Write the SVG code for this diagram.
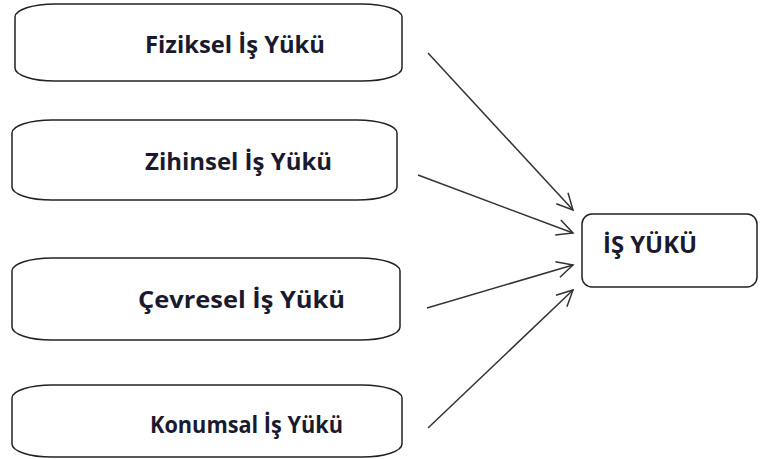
<svg xmlns="http://www.w3.org/2000/svg" width="760" height="459" viewBox="0 0 760 459">
<style>
.box{fill:#fff;stroke:#222;stroke-width:1.5}
.lbl{font-family:"Open Sans","Liberation Sans",sans-serif;font-weight:bold;font-size:24px;fill:#1a1a2e}
.conn{stroke:#333;stroke-width:1.5;fill:none;marker-end:url(#arr)}
</style>
<defs>
<marker id="arr" viewBox="0 0 20 20" refX="18" refY="10" markerWidth="20" markerHeight="20" markerUnits="userSpaceOnUse" orient="auto">
<path d="M2,2 L18,10 L2,18" fill="none" stroke="#333" stroke-width="1.5"/>
</marker>
</defs>
<rect width="760" height="459" fill="#fff"/>
<g id="fiziksel"><rect class="box" x="15" y="4" width="387" height="77" rx="40" ry="13"/><text class="lbl" x="145" y="53" textLength="180" lengthAdjust="spacingAndGlyphs">Fiziksel İş Yükü</text></g>
<g id="zihinsel"><rect class="box" x="12" y="120" width="385" height="80" rx="40" ry="13"/><text class="lbl" x="145" y="170" textLength="187" lengthAdjust="spacingAndGlyphs">Zihinsel İş Yükü</text></g>
<g id="cevresel"><rect class="box" x="12" y="258" width="388" height="82" rx="40" ry="13"/><text class="lbl" x="138" y="308" textLength="207" lengthAdjust="spacingAndGlyphs">Çevresel İş Yükü</text></g>
<g id="konumsal"><rect class="box" x="12" y="385" width="390" height="72" rx="40" ry="13"/><text class="lbl" x="150" y="433" textLength="193" lengthAdjust="spacingAndGlyphs">Konumsal İş Yükü</text></g>
<g id="isyuku"><rect class="box" x="582" y="214" width="175" height="73" rx="10"/><text class="lbl" x="603" y="253" textLength="94" lengthAdjust="spacingAndGlyphs">İŞ YÜKÜ</text></g>
<g id="connectors">
<line class="conn" x1="428" y1="53" x2="573" y2="210"/>
<line class="conn" x1="418" y1="175" x2="573" y2="233"/>
<line class="conn" x1="427" y1="308" x2="573" y2="265"/>
<line class="conn" x1="428" y1="428" x2="573" y2="290"/>
</g>
</svg>
